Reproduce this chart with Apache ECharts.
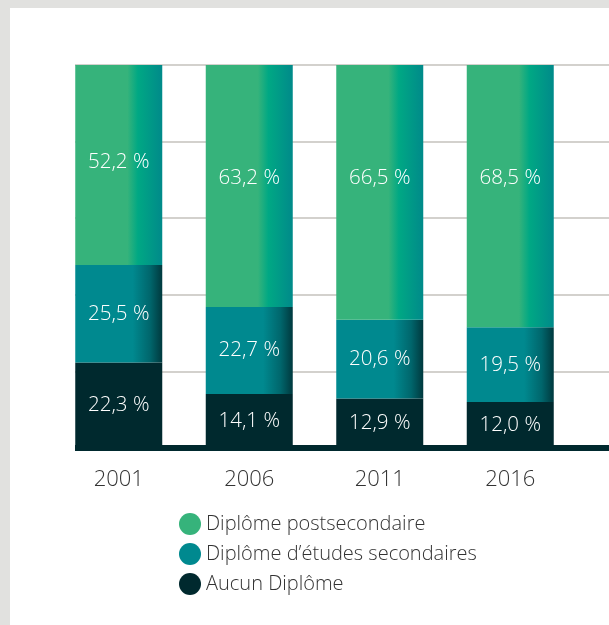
<!DOCTYPE html>
<html><head><meta charset="utf-8">
<script src="https://cdn.jsdelivr.net/npm/echarts@6/dist/echarts.min.js"></script>
<style>html,body{margin:0;padding:0;background:#fff}#c{width:609px;height:625px}</style>
</head><body><div id="c"></div>
<script>
const categories = ['2001', '2006', '2011', '2016'];
const aucun = [22.3, 14.1, 12.9, 12.0];
const secondaire = [25.5, 22.7, 20.6, 19.5];
const postsecondaire = [52.2, 63.2, 66.5, 68.5];
const seriesNames = ['Diplôme postsecondaire', 'Diplôme d’études secondaires', 'Aucun Diplôme'];

const FONT = '"Open Sans", sans-serif';
const fmt = v => v.toFixed(1).replace('.', ',') + ' %';

function grad(stops) {
  return new echarts.graphic.LinearGradient(0, 0, 1, 0, stops.map(s => ({offset: s[0], color: s[1]})));
}
const greenSolid = '#36b37b', tealSolid = '#00898f', darkFill = '#00292e';
const greenFill = grad([[0, greenSolid], [0.6, greenSolid], [0.72, '#00a884'], [1, '#008a8a']]);
const tealFill = grad([[0, tealSolid], [0.66, tealSolid], [0.86, '#00666c'], [1, '#00393e']]);

const baseLabel = {show: true, color: '#ffffff', fontFamily: FONT, fontSize: 20.5, fontWeight: 300, formatter: p => fmt(p.value)};

const chart = echarts.init(document.getElementById('c'), null, {renderer: 'canvas'});
chart.setOption({
  animation: false,
  backgroundColor: '#ffffff',
  graphic: [
    {type: 'rect', z: -10, shape: {x: 0, y: 0, width: 609, height: 8}, style: {fill: '#e1e1df'}},
    {type: 'rect', z: -10, shape: {x: 0, y: 0, width: 10, height: 625}, style: {fill: '#e1e1df'}}
  ],
  legend: {
    orient: 'vertical', left: 174, top: 508, itemWidth: 22, itemHeight: 22, itemGap: 8,
    icon: 'circle',
    data: [
      {name: seriesNames[0], itemStyle: {color: greenSolid}},
      {name: seriesNames[1], itemStyle: {color: tealSolid}},
      {name: seriesNames[2], itemStyle: {color: darkFill}}
    ],
    textStyle: {fontFamily: FONT, fontSize: 20, fontWeight: 300, color: '#333333', padding: [0, 0, 0, 0]}
  },
  grid: [
    {left: 53.5, width: 522, top: 65, height: 383},
    {left: 75, width: 560, top: 65, height: 383}
  ],
  xAxis: [
    {gridIndex: 0, type: 'category', data: categories, axisLine: {show: false}, axisTick: {show: false},
     axisLabel: {color: '#333333', fontFamily: FONT, fontSize: 22, fontWeight: 300, margin: 21}},
    {gridIndex: 1, type: 'category', data: categories, axisLine: {show: true, lineStyle: {color: '#00292e', width: 6, cap: 'butt'}},
     axisTick: {show: false}, axisLabel: {show: false}}
  ],
  yAxis: [
    {gridIndex: 0, type: 'value', min: 0, max: 100, interval: 20, show: false, splitLine: {show: false}},
    {gridIndex: 1, type: 'value', min: 0, max: 100, interval: 20, axisLine: {show: false}, axisTick: {show: false},
     axisLabel: {show: false}, splitLine: {show: true, lineStyle: {color: '#d3d1cd', width: 2}}}
  ],
  series: [
    {name: seriesNames[2], type: 'bar', stack: 't', barWidth: 87, xAxisIndex: 0, yAxisIndex: 0,
     itemStyle: {color: darkFill}, label: Object.assign({}, baseLabel, {position: 'inside'}), data: aucun},
    {name: seriesNames[1], type: 'bar', stack: 't', barWidth: 87, xAxisIndex: 0, yAxisIndex: 0,
     itemStyle: {color: tealFill}, label: Object.assign({}, baseLabel, {position: 'inside'}), data: secondaire},
    {name: seriesNames[0], type: 'bar', stack: 't', barWidth: 87, xAxisIndex: 0, yAxisIndex: 0,
     itemStyle: {color: greenFill},
     label: Object.assign({}, baseLabel, {position: ['50%', 113], align: 'center', verticalAlign: 'middle'}),
     data: postsecondaire.map((v, i) => i === 0 ? {value: v, label: {position: ['50%', 97]}} : v)}
  ]
});
</script></body></html>
